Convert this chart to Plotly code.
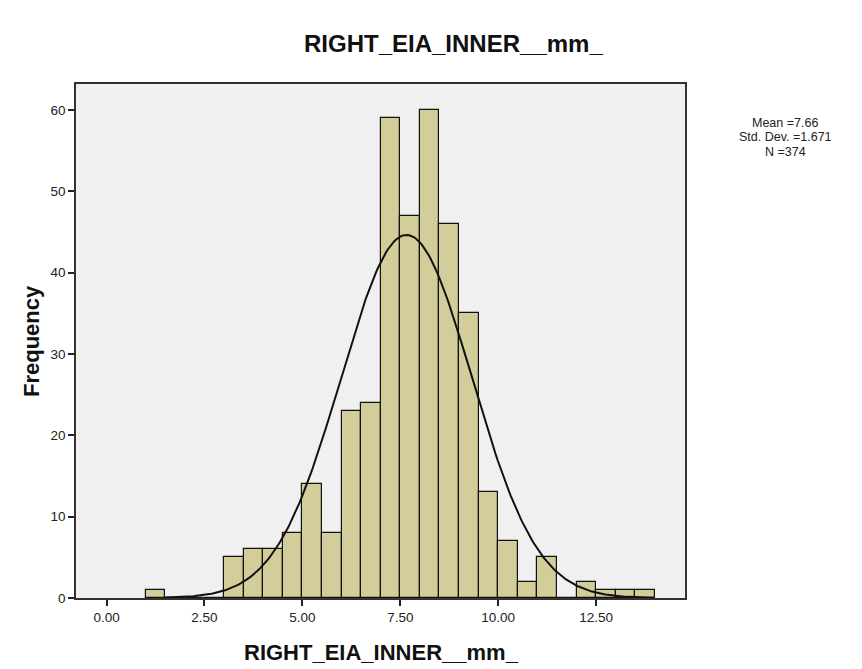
import numpy as np
import plotly.graph_objects as go

# Histogram bins (lower edges) and frequencies
bin_starts = [1.0, 1.5, 2.0, 2.5, 3.0, 3.5, 4.0, 4.5, 5.0, 5.5, 6.0, 6.5, 7.0, 7.5,
              8.0, 8.5, 9.0, 9.5, 10.0, 10.5, 11.0, 11.5, 12.0, 12.5, 13.0, 13.5]
frequencies = [1, 0, 0, 0, 5, 6, 6, 8, 14, 8, 23, 24, 59, 47,
               60, 46, 35, 13, 7, 2, 5, 0, 2, 1, 1, 1]
bin_width = 0.5

# Summary statistics shown on the chart
mean_val = 7.66
std_val = 1.671
n_val = 374
curve_range = [1.5, 14.0]

x_ticks = [0.0, 2.5, 5.0, 7.5, 10.0, 12.5]
y_ticks = [0, 10, 20, 30, 40, 50, 60]

title_text = "RIGHT_EIA_INNER__mm_"
x_title = "RIGHT_EIA_INNER__mm_"
y_title = "Frequency"
stats_lines = ["Mean =7.66", "Std. Dev. =1.671", "N =374"]

centers = [b + bin_width / 2 for b in bin_starts]

# Normal curve from the displayed statistics
cx = np.linspace(curve_range[0], curve_range[1], 300)
cy = n_val * bin_width / (std_val * np.sqrt(2 * np.pi)) * np.exp(-0.5 * ((cx - mean_val) / std_val) ** 2)

fig = go.Figure()
fig.add_trace(go.Bar(
    x=centers, y=frequencies, width=bin_width,
    marker=dict(color="#D3CE99", line=dict(color="#111111", width=1.2)),
    showlegend=False, hoverinfo="x+y",
))
fig.add_trace(go.Scatter(
    x=cx, y=cy, mode="lines",
    line=dict(color="#111111", width=2),
    showlegend=False, hoverinfo="skip",
))

FONT = "Liberation Sans, Arial, sans-serif"

# The page body adds an 8px offset, so the figure is 8px smaller than the window
W, H = 854, 661
L, R, T, B = 68, 677, 76, 590  # plot area in figure pixels
PW, PH = R - L, B - T


def px(fx):
    return (fx - L) / PW


def py(fy):
    return (B - fy) / PH


fig.update_layout(
    width=W, height=H,
    margin=dict(l=L, r=W - R, t=T, b=H - B),
    paper_bgcolor="white",
    plot_bgcolor="#F0F0F0",
    bargap=0,
    font=dict(family=FONT, color="#222222", size=13),
    xaxis=dict(
        range=[-0.78, 14.77], tickvals=x_ticks, tickformat=".2f",
        ticks="outside", ticklen=6, tickcolor="#222222", tickwidth=1.5,
        showline=True, linecolor="#333333", linewidth=1.5, mirror=True,
        showgrid=False, zeroline=False,
        tickfont=dict(size=13.5, color="#222222"),
    ),
    yaxis=dict(
        range=[0, 63.2], tickvals=y_ticks,
        ticks="outside", ticklen=6, tickcolor="#222222", tickwidth=1.5,
        showline=True, linecolor="#333333", linewidth=1.5, mirror=True,
        showgrid=False, zeroline=False,
        tickfont=dict(size=13.5, color="#222222"),
    ),
)

anns = [
    dict(text="<b>%s</b>" % title_text, x=px(445), y=py(35),
         xref="paper", yref="paper", showarrow=False,
         font=dict(family=FONT, size=24, color="#111111"), xanchor="center", yanchor="middle"),
    dict(text="<b>%s</b>" % x_title, x=px(373), y=py(644),
         xref="paper", yref="paper", showarrow=False,
         font=dict(family=FONT, size=22, color="#111111"), xanchor="center", yanchor="middle"),
    dict(text="<b>%s</b>" % y_title, x=px(23), y=py(333),
         xref="paper", yref="paper", showarrow=False, textangle=-90,
         font=dict(family=FONT, size=22, color="#111111"), xanchor="center", yanchor="middle"),
]
for i, line in enumerate(stats_lines):
    anns.append(dict(text=line, x=px(777), y=py(115 + 14.5 * i),
                     xref="paper", yref="paper", showarrow=False,
                     font=dict(family=FONT, size=12.5, color="#222222"),
                     xanchor="center", yanchor="middle"))
fig.update_layout(annotations=anns)

fig.write_html("out.html")
